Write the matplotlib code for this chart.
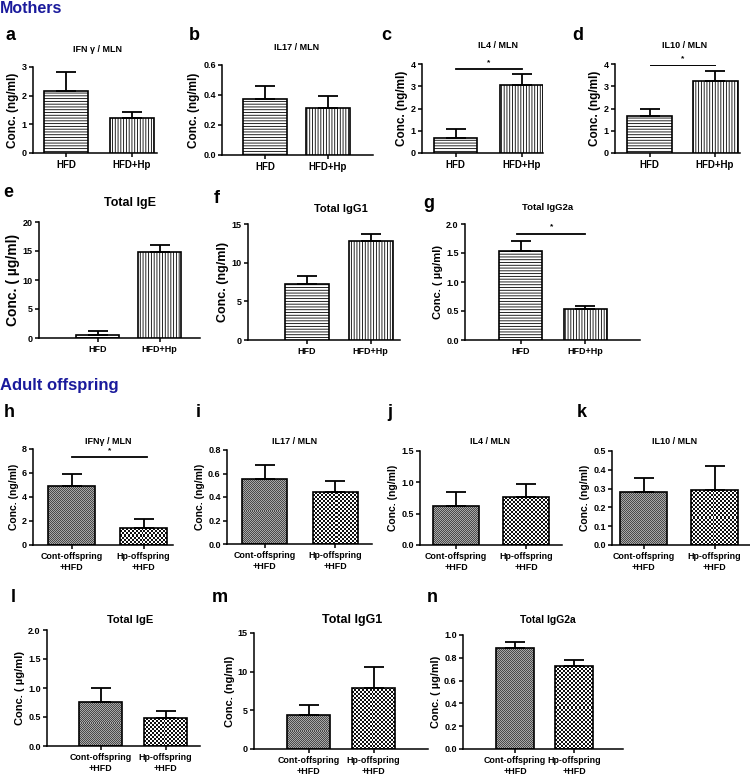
import numpy as np
import matplotlib
matplotlib.use('Agg')
import matplotlib.pyplot as plt
from matplotlib.colors import ListedColormap

plt.rcParams['font.family'] = ['Liberation Sans', 'DejaVu Sans']
plt.rcParams['font.weight'] = 'bold'
plt.rcParams['axes.labelweight'] = 'bold'
plt.rcParams['hatch.linewidth'] = 0.6

W, H = 750, 776

mothers = ['HFD', 'HFD+Hp']
offspring = ['Cont-offspring\n+HFD', 'Hp-offspring\n+HFD']

# means and upper error bar length
ifng_m = [2.18, 1.22]
ifng_m_err = [0.64, 0.22]
il17_m = [0.37, 0.315]
il17_m_err = [0.09, 0.075]
il4_m = [0.67, 3.05]
il4_m_err = [0.43, 0.50]
il10_m = [1.68, 3.22]
il10_m_err = [0.29, 0.45]
ige_m = [0.55, 14.8]
ige_m_err = [0.60, 1.3]
igg1_m = [7.25, 12.75]
igg1_m_err = [1.05, 0.95]
igg2a_m = [1.53, 0.54]
igg2a_m_err = [0.18, 0.04]

ifng_o = [4.9, 1.4]
ifng_o_err = [1.0, 0.75]
il17_o = [0.555, 0.44]
il17_o_err = [0.115, 0.095]
il4_o = [0.62, 0.76]
il4_o_err = [0.22, 0.215]
il10_o = [0.28, 0.29]
il10_o_err = [0.075, 0.13]
ige_o = [0.76, 0.48]
ige_o_err = [0.24, 0.12]
igg1_o = [4.4, 7.95]
igg1_o_err = [1.25, 2.6]
igg2a_o = [0.885, 0.725]
igg2a_o_err = [0.055, 0.055]

ng = 'Conc. (ng/ml)'
ug = 'Conc. ( \u00b5g/ml)'

fig = plt.figure(figsize=(7.5, 7.76), dpi=100)

M_HATCH = ['------', '||||||']
# checker textures for offspring bars: (cell size in px, two colours)
O_CHECK = [(1, ['#4a4a4a', '#a8a8a8']), (2, ['#111111', '#ffffff'])]


def fx(x):
    return x / W


def fy(y):
    return 1 - y / H


def panel(letter, lpos, title, tpos, tsize, box, bars, vals, errs, yticks, fmt,
          ylabel, ysize, labels, xsize, sig=None):
    L, R, top, zero = box
    c1, c2, bw = bars
    unit = c2 - c1
    ymax = yticks[-1]
    ax = fig.add_axes([fx(L), fy(zero), (R - L) / W, (zero - top) / H])
    x = np.arange(len(vals))
    bw_d = bw / unit
    offs = labels is offspring
    rects = ax.bar(x, vals, width=bw_d, color='white' if not offs else 'none',
                   edgecolor='black', linewidth=1.2, zorder=3)
    for i, r in enumerate(rects):
        if not offs:
            r.set_hatch(M_HATCH[i])
        else:
            cell, cols = O_CHECK[i]
            hpx = vals[i] / ymax * (zero - top)
            ny = max(1, int(round(hpx / cell)))
            nx = max(1, int(round(bw / cell)))
            yy, xx = np.indices((ny, nx))
            img = (yy + xx) % 2
            im = ax.imshow(img, extent=[i - bw_d / 2, i + bw_d / 2, 0, vals[i]], origin='lower',
                           cmap=ListedColormap(cols), vmin=0, vmax=1, interpolation='nearest',
                           aspect='auto', zorder=2)
            im.set_clip_path(r)
    ax.errorbar(x, vals, yerr=[np.zeros(len(vals)), errs], fmt='none', ecolor='black',
                elinewidth=1.3, capsize=7.5, capthick=1.3, zorder=4)
    ax.set_xlim((L - c1) / unit, (R - c1) / unit)
    ax.set_ylim(0, ymax)
    ax.set_yticks(yticks)
    ax.set_yticklabels([fmt % t for t in yticks])
    ax.set_xticks(x)
    ax.set_xticklabels(labels, fontsize=xsize, linespacing=1.25)
    for s in ['top', 'right']:
        ax.spines[s].set_visible(False)
    for s in ['left', 'bottom']:
        ax.spines[s].set_linewidth(1.1)
    ax.tick_params(axis='y', length=3, width=1.1, labelsize=6.5, pad=1.5)
    ax.tick_params(axis='x', length=3, width=1.1, pad=2)
    ax.set_ylabel(ylabel, fontsize=ysize, labelpad=2)
    if sig is not None:
        sy, sx0, sx1, lw = sig
        ax.plot([sx0, sx1], [sy, sy], color='black', lw=lw, clip_on=False)
        ax.text((sx0 + sx1) / 2, sy + ymax * 0.03, '*', ha='center', va='bottom', fontsize=6)
    fig.text(fx(tpos[0]), fy(tpos[1]), title, ha='center', va='center', fontsize=tsize)
    fig.text(fx(lpos[0]), fy(lpos[1]), letter, ha='left', va='baseline', fontsize=13)
    return ax


fig.text(0, fy(13), 'Mothers', color='#1a1a9c', fontsize=11.5, ha='left', va='baseline')
fig.text(0, fy(390), 'Adult offspring', color='#1a1a9c', fontsize=12, ha='left', va='baseline')

# mothers, top row
panel('a', (6, 40), 'IFN \u03b3 / MLN', (98, 50), 6.5, (33, 157, 67, 153), (66, 131.5, 44),
      ifng_m, ifng_m_err, [0, 1, 2, 3], '%d', ng, 8.5, mothers, 7)
panel('b', (189, 40), 'IL17 / MLN', (297, 47), 6.5, (222, 373, 65, 155), (265, 328, 44),
      il17_m, il17_m_err, [0, 0.2, 0.4, 0.6], '%.1f', ng, 8.5, mothers, 7)
panel('c', (381, 40), 'IL4 / MLN', (498, 46), 6.5, (422, 543, 64, 153), (455.5, 521.5, 43),
      il4_m, il4_m_err, [0, 1, 2, 3, 4], '%d', ng, 8.5, mothers, 7,
      sig=(3.78, 0.0, 1.0, 1.3))
panel('d', (572, 40), 'IL10 / MLN', (685, 46), 6.5, (615, 740, 64, 153), (649.5, 715, 45),
      il10_m, il10_m_err, [0, 1, 2, 3, 4], '%d', ng, 8.5, mothers, 7,
      sig=(3.95, 0.0, 1.0, 0.7))

# mothers, second row
panel('e', (3, 197), 'Total IgE', (130, 203), 9, (39, 200, 222, 338), (97.5, 159.5, 43),
      ige_m, ige_m_err, [0, 5, 10, 15, 20], '%d', ug, 10, mothers, 6.5)
panel('f', (214, 203), 'Total IgG1', (341, 209), 8, (248, 400, 224, 340), (306.5, 370.5, 44),
      igg1_m, igg1_m_err, [0, 5, 10, 15], '%d', ng, 9, mothers, 6.5)
panel('g', (423, 208), 'Total IgG2a', (548, 208), 6.8, (465, 640, 224, 340), (520.5, 585, 43),
      igg2a_m, igg2a_m_err, [0, 0.5, 1.0, 1.5, 2.0], '%.1f', ug, 8, mothers, 6.5,
      sig=(1.83, -0.05, 1.0, 1.3))

# offspring, top row
panel('h', (4, 417), 'IFN\u03b3 / MLN', (108, 441), 6.5, (33, 173, 449, 545), (71.5, 143.5, 47),
      ifng_o, ifng_o_err, [0, 2, 4, 6, 8], '%d', ng, 7.5, offspring, 6.4,
      sig=(7.33, 0.0, 1.05, 1.3))
panel('i', (196, 417), 'IL17 / MLN', (295, 442), 6.5, (227, 372, 450, 544), (264.5, 335, 45),
      il17_o, il17_o_err, [0, 0.2, 0.4, 0.6, 0.8], '%.1f', ng, 7.5, offspring, 6.4)
panel('j', (387, 417), 'IL4 / MLN', (490, 442), 6.5, (420, 562, 451, 545), (456, 526, 46),
      il4_o, il4_o_err, [0, 0.5, 1.0, 1.5], '%.1f', ng, 7.5, offspring, 6.4)
panel('k', (577, 417), 'IL10 / MLN', (675, 442), 6.5, (612, 750, 451, 545), (643.5, 714.5, 47),
      il10_o, il10_o_err, [0, 0.1, 0.2, 0.3, 0.4, 0.5], '%.1f', ng, 7.5, offspring, 6.4)

# offspring, second row
panel('l', (11, 602), 'Total IgE', (130, 620), 8, (47, 200, 630, 746), (100.5, 165.5, 43),
      ige_o, ige_o_err, [0, 0.5, 1.0, 1.5, 2.0], '%.1f', ug, 8, offspring, 6.4)
panel('m', (212, 602), 'Total IgG1', (352, 620), 9, (254, 428, 633, 749), (308.5, 373.5, 43),
      igg1_o, igg1_o_err, [0, 5, 10, 15], '%d', ng, 8, offspring, 6.4)
panel('n', (427, 602), 'Total IgG2a', (548, 620), 7.5, (463, 623, 635, 749), (515, 574, 38),
      igg2a_o, igg2a_o_err, [0, 0.2, 0.4, 0.6, 0.8, 1.0], '%.1f', ug, 7.8, offspring, 6.4)

fig.savefig('out.png', dpi=100)
